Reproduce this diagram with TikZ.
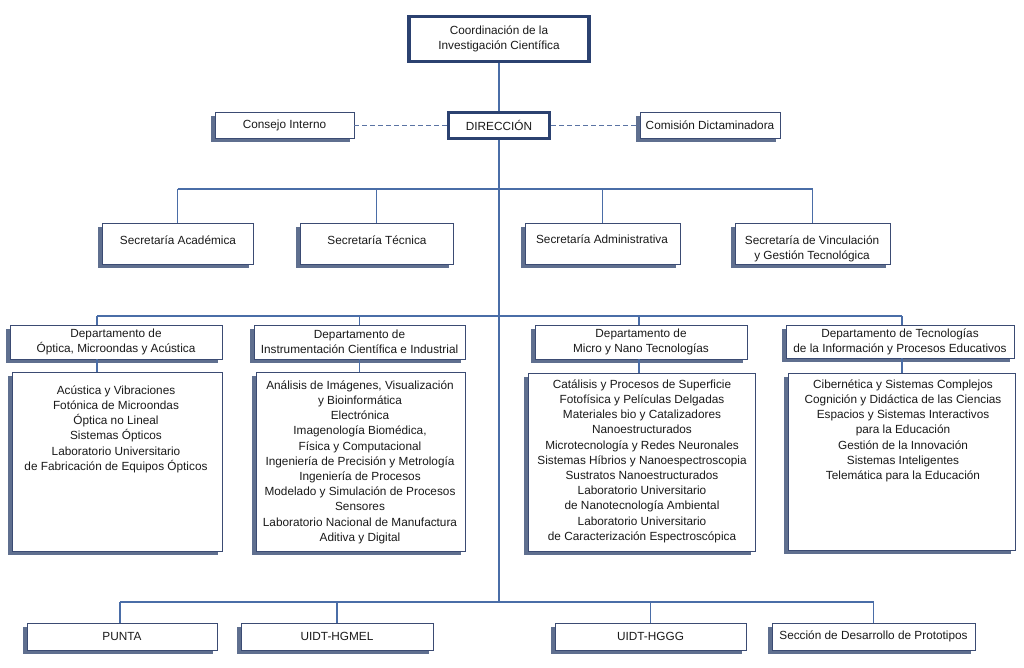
\documentclass[tikz,border=0pt]{standalone}
\usepackage{fontspec}
\setmainfont{Liberation Sans}
\usetikzlibrary{shadows}
\definecolor{lnc}{HTML}{4A6DA7}
\definecolor{dlc}{HTML}{5A73A3}
\definecolor{bdc}{HTML}{3B4B73}
\definecolor{thc}{HTML}{2B4170}
\definecolor{shc}{HTML}{5F6F8F}
\definecolor{txc}{HTML}{1A1A1A}
\newcommand\orgfont{\fontsize{11.8}{15.2}\selectfont}
\newcommand\topstrut{\rule{0pt}{11pt}}
\begin{document}
\begin{tikzpicture}[x=1pt,y=-1pt,
  box/.style={draw=bdc, line width=0.8pt, fill=white, inner sep=0pt,
    drop shadow={shadow xshift=-4pt,shadow yshift=-4pt,fill=shc,opacity=1},
    font=\orgfont, text=txc, align=center},
  topbox/.style={draw=thc, line width=3.4pt, fill=white, inner sep=0pt,
    font=\orgfont, text=txc, align=center},
  txt/.style={anchor=north, inner sep=0pt, font=\orgfont, text=txc, align=center},
  conn/.style={draw=lnc, line width=1.3pt},
  dline/.style={draw=dlc, line width=1pt, dash pattern=on 4.5pt off 3.5pt}]
\useasboundingbox[fill=white] (0,0) rectangle (1024,667);

% connector coordinates
\coordinate (sbL) at (177.5,189);
\coordinate (sbR) at (812.5,189);
\coordinate (dbL) at (97,316);
\coordinate (dbR) at (902,316);
\coordinate (d3x) at (639,316);
\coordinate (bbL) at (120,602);
\coordinate (bbR) at (873.5,602);
\coordinate (bbC) at (499,602);

% top
\node[topbox, minimum width=180pt, minimum height=45pt] (coord) at (499,39)
  {Coordinación de la\\Investigación Científica};
\node[topbox, minimum width=101pt, minimum height=26pt] (dir) at (499,125.5) {DIRECCIÓN};
\node[box, minimum width=139pt, minimum height=26pt] (consejo) at (284.5,125) {Consejo Interno};
\node[box, minimum width=140pt, minimum height=26pt] (comision) at (710,125) {Comisión Dictaminadora};

% secretarias
\node[box, minimum width=151pt, minimum height=41pt] (secA) at (177.5,243.5) {};
\node[box, minimum width=153pt, minimum height=41pt] (secT) at (376.5,243.5) {};
\node[box, minimum width=155pt, minimum height=41pt] (secAd) at (602.5,243.5) {};
\node[box, minimum width=155pt, minimum height=41pt] (secV) at (812.5,243.5) {};
\node[txt] (secAt) at (178,233) {\topstrut Secretaría Académica};
\node[txt] (secTt) at (377,233) {\topstrut Secretaría Técnica};
\node[txt] (secAdt) at (602,232) {\topstrut Secretaría Administrativa};
\node[txt] (secVt) at (812,233) {\topstrut Secretaría de Vinculación\\y Gestión Tecnológica};

% departments
\node[box, minimum width=212pt, minimum height=34pt] (d1h) at (116,342)
  {Departamento de\\Óptica, Microondas y Acústica};
\node[box, minimum width=211pt, minimum height=34pt] (d2h) at (359.5,342)
  {Departamento de\\Instrumentación Científica e Industrial};
\node[box, minimum width=212pt, minimum height=34pt] (d3h) at (641,342)
  {Departamento de\\Micro y Nano Tecnologías};
\node[box, minimum width=228pt, minimum height=33pt] (d4h) at (900,341.5)
  {Departamento de Tecnologías\\de la Información y Procesos Educativos};

\node[box, minimum width=210pt, minimum height=179pt] (d1c) at (117,461.5) {};
\node[box, minimum width=209pt, minimum height=179pt] (d2c) at (360.5,461.5) {};
\node[box, minimum width=227pt, minimum height=178pt] (d3c) at (641.5,462) {};
\node[box, minimum width=227pt, minimum height=177pt] (d4c) at (901.5,461.5) {};

\node[txt] (d1t) at (116,383) {\topstrut Acústica y Vibraciones\\Fotónica de Microondas\\Óptica no Lineal\\Sistemas Ópticos\\Laboratorio Universitario\\de Fabricación de Equipos Ópticos};
\node[txt] (d2t) at (360,378) {\topstrut Análisis de Imágenes, Visualización\\y Bioinformática\\Electrónica\\Imagenología Biomédica,\\Física y Computacional\\Ingeniería de Precisión y Metrología\\Ingeniería de Procesos\\Modelado y Simulación de Procesos\\Sensores\\Laboratorio Nacional de Manufactura\\Aditiva y Digital};
\node[txt] (d3t) at (642,377) {\topstrut Catálisis y Procesos de Superficie\\Fotofísica y Películas Delgadas\\Materiales bio y Catalizadores\\Nanoestructurados\\Microtecnología y Redes Neuronales\\Sistemas Híbrios y Nanoespectroscopia\\Sustratos Nanoestructurados\\Laboratorio Universitario\\de Nanotecnología Ambiental\\Laboratorio Universitario\\de Caracterización Espectroscópica};
\node[txt] (d4t) at (903,377) {\topstrut Cibernética y Sistemas Complejos\\Cognición y Didáctica de las Ciencias\\Espacios y Sistemas Interactivos\\para la Educación\\Gestión de la Innovación\\Sistemas Inteligentes\\Telemática para la Educación};

% bottom
\node[box, minimum width=190pt, minimum height=27pt] (punta) at (122,636.5) {PUNTA};
\node[box, minimum width=192pt, minimum height=27pt] (hgmel) at (337,636.5) {UIDT-HGMEL};
\node[box, minimum width=191pt, minimum height=27pt] (hggg) at (650.5,636.5) {UIDT-HGGG};
\node[box, minimum width=203pt, minimum height=27pt] (seccion) at (873.5,636.5) {Sección de Desarrollo de Prototipos};

% connectors
\draw[conn] (coord.south) -- (dir.north);
\draw[conn] (dir.south) -- (bbC);
\draw[dline] (consejo.east) -- (consejo.east -| dir.west);
\draw[dline] (comision.west -| dir.east) -- (comision.west);
\draw[conn] (sbL) -- (sbR);
\draw[conn] (sbL) -- (secA.north);
\draw[conn] (secT.north |- sbL) -- (secT.north);
\draw[conn] (secAd.north |- sbL) -- (secAd.north);
\draw[conn] (sbR) -- (secV.north);
\draw[conn] (dbL) -- (dbR);
\draw[conn] (dbL) -- (dbL |- d1h.north);
\draw[conn] (d1h.south -| dbL) -- (d1c.north -| dbL);
\draw[conn] (d2h.north |- dbL) -- (d2h.north);
\draw[conn] (d2h.south) -- (d2c.north -| d2h.south);
\draw[conn] (d3x) -- (d3x |- d3h.north);
\draw[conn] (d3h.south -| d3x) -- (d3c.north -| d3x);
\draw[conn] (dbR) -- (dbR |- d4h.north);
\draw[conn] (d4h.south -| dbR) -- (d4c.north -| dbR);
\draw[conn] (bbL) -- (bbR);
\draw[conn] (bbL) -- (bbL |- punta.north);
\draw[conn] (hgmel.north |- bbL) -- (hgmel.north);
\draw[conn] (hggg.north |- bbL) -- (hggg.north);
\draw[conn] (bbR) -- (seccion.north);
\end{tikzpicture}
\end{document}
